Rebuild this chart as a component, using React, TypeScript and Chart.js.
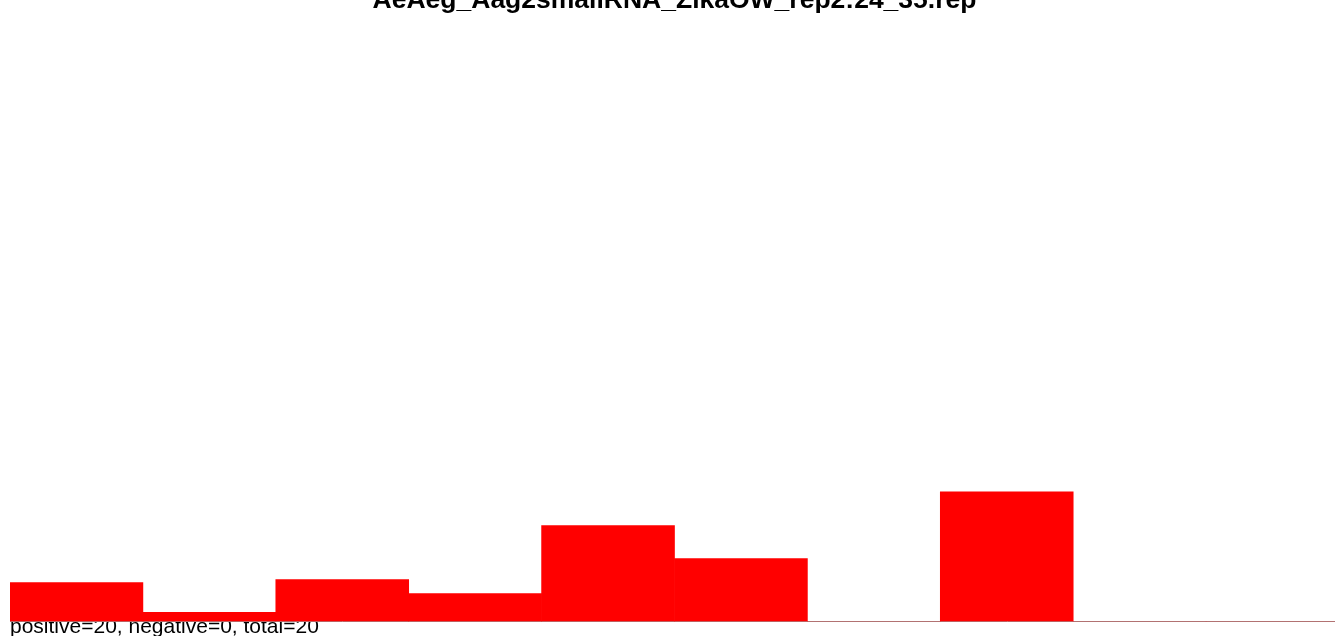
import React, { useEffect, useRef } from 'react';
import { Chart, registerables } from 'chart.js';

Chart.register(...registerables);

const categories = ['24', '25', '26', '27', '28', '29', '30', '31', '32', '33'];
const values = [6.55, 1.56, 7.05, 4.7, 16.11, 10.57, 0, 21.82, 0, 0];
const titleText = 'AeAeg_Aag2smallRNA_ZikaOW_rep2:24_35.rep';
const summaryText = 'positive=20, negative=0, total=20';
const yMax = 100;

const FONT = "'Liberation Sans', Arial, Helvetica, sans-serif";

export default function App() {
  const ref = useRef<HTMLCanvasElement | null>(null);

  useEffect(() => {
    if (!ref.current) return;
    const chart = new Chart(ref.current, {
      type: 'bar',
      data: {
        labels: categories,
        datasets: [
          {
            data: values,
            backgroundColor: '#ff0000',
            borderWidth: 0,
            barPercentage: 1,
            categoryPercentage: 1,
          },
        ],
      },
      options: {
        animation: false,
        responsive: false,
        layout: { padding: { left: 10, right: 0, top: 0, bottom: 20 } },
        plugins: {
          legend: { display: false },
          tooltip: { enabled: false },
          title: {
            display: true,
            text: titleText,
            color: '#000',
            font: { family: FONT, size: 26.5, weight: 'bold' },
            padding: 10,
          },
          subtitle: {
            display: true,
            text: summaryText,
            position: 'bottom',
            align: 'start',
            color: '#000',
            font: { family: FONT, size: 21, weight: 'normal', lineHeight: 0.5 },
            padding: 0,
          },
        },
        scales: {
          x: {
            display: true,
            grid: { display: false, drawTicks: false, tickLength: 0 },
            ticks: { display: false, padding: 0 },
            border: { display: true, color: '#999999', width: 1 },
          },
          y: {
            display: false,
            min: 0,
            max: yMax,
          },
        },
      },
    });
    return () => chart.destroy();
  }, []);

  return (
    <div style={{ position: 'fixed', left: 0, top: 0, width: '100vw', height: '100vh', overflow: 'hidden', background: '#fff' }}>
      <canvas
        ref={ref}
        width={1339}
        height={677}
        style={{ position: 'absolute', left: 0, top: -25, display: 'block' }}
      />
    </div>
  );
}
